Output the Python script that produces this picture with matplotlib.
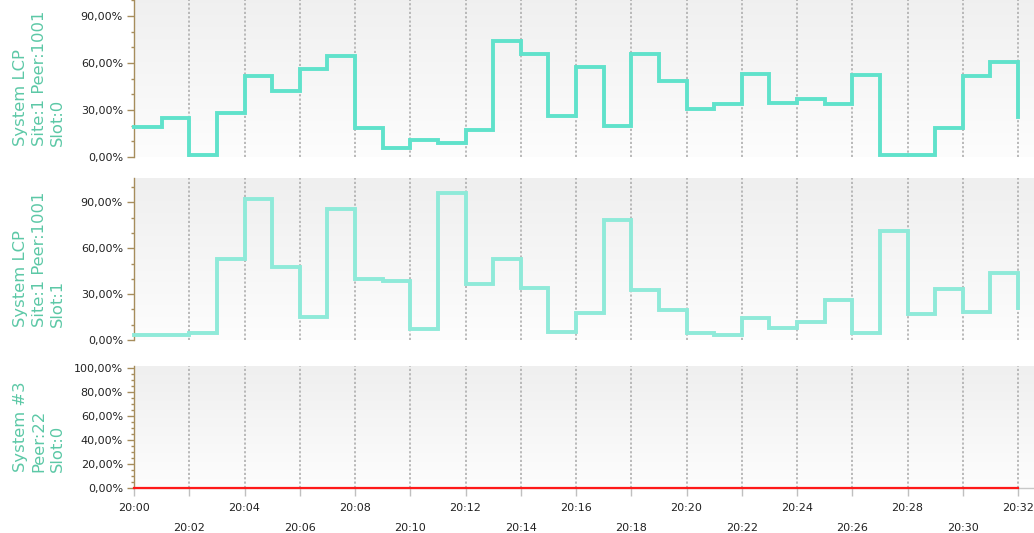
import numpy as np
import matplotlib
matplotlib.use("Agg")
import matplotlib.pyplot as plt
from matplotlib.ticker import FixedLocator, MultipleLocator, FuncFormatter
from matplotlib.colors import LinearSegmentedColormap

# minutes after 20:00 (one value per minute, last entry is the value at 20:32)
minutes = list(range(33))
tick_labels = ["20:%02d" % m for m in range(0, 33, 2)]

slot0 = [19, 25, 1, 28, 52, 42, 56, 64.5, 18.5, 6, 11, 9, 17, 74, 65.5, 26.5,
         57.5, 19.5, 65.5, 48.5, 30.5, 34, 53, 34.5, 37, 34, 52.5, 1, 1.5, 18.5,
         51.7, 60.6, 25.5]
slot1 = [3, 3, 4.5, 53, 92, 48, 15, 86, 40, 38.7, 7, 96.5, 36.8, 53, 34, 5.3,
         17.7, 78.8, 32.8, 19.7, 4.8, 3.5, 14.4, 7.9, 12, 26.3, 4.8, 71.5, 17,
         33.5, 18, 43.8, 21]
sys3 = [0] * 33

labels = ["System LCP\nSite:1 Peer:1001\nSlot:0",
          "System LCP\nSite:1 Peer:1001\nSlot:1",
          "System #3\nPeer:22\nSlot:0"]

W, H = 1034, 533
fig = plt.figure(figsize=(W / 100, H / 100), dpi=100, facecolor="white")

spine_col = "#a68d5c"
grid_col = "#b4b4b4"
label_col = "#5cc8a6"
bg = LinearSegmentedColormap.from_list("bg", ["#fdfdfd", "#efefef"])


def px_axes(top, bottom):
    return fig.add_axes([134 / W, (H - bottom) / H, (W - 134) / W, (bottom - top) / H])


def pct(v, pos):
    return ("%.2f%%" % v).replace(".", ",")


panels = [
    (px_axes(-9, 157), slot0, "#60e2cb", 2.8, (0, 106), 30, 10),
    (px_axes(178, 340), slot1, "#8fead9", 2.8, (0, 106), 30, 10),
    (px_axes(366, 488), sys3, "#ff1a1a", 1.6, (0, 101.6), 20, 5),
]

xmax = 32 + 16 / 27.625
for i, (ax, vals, col, lw, ylim, major, minor) in enumerate(panels):
    ax.set_xlim(0, xmax)
    ax.set_ylim(*ylim)
    grad = np.linspace(0, 1, 256).reshape(-1, 1)
    ax.imshow(grad, extent=[0, xmax, ylim[0], ylim[1]], origin="lower",
              aspect="auto", cmap=bg, zorder=0)
    for m in range(2, 33, 2):
        ax.axvline(m, color=grid_col, lw=1.3, dashes=(1.2, 1.2), zorder=1)
    ax.step(minutes, vals, where="post", color=col, lw=lw, zorder=4,
            solid_joinstyle="miter", clip_on=False)

    for s in ["top", "right"]:
        ax.spines[s].set_visible(False)
    ax.spines["left"].set_color(spine_col)
    ax.spines["left"].set_linewidth(1.0)
    ax.yaxis.set_major_locator(FixedLocator(np.arange(0, ylim[1], major)))
    ax.yaxis.set_minor_locator(MultipleLocator(minor))
    ax.yaxis.set_major_formatter(FuncFormatter(pct))
    ax.tick_params(axis="y", which="major", length=5, width=1, color=spine_col,
                   labelsize=8, labelcolor="#222222", pad=3)
    ax.tick_params(axis="y", which="minor", length=2.5, width=1, color=spine_col)

    if i < 2:
        ax.spines["bottom"].set_visible(False)
        ax.set_xticks([])
    else:
        ax.spines["bottom"].set_color("#c8c8c8")
        ax.spines["bottom"].set_linewidth(1.0)
        ax.set_xticks(minutes[0::4])
        ax.set_xticklabels(tick_labels[0::2])
        ax.set_xticks(minutes[2::4], minor=True)
        ax.set_xticklabels(tick_labels[1::2], minor=True)
        ax.tick_params(axis="x", which="both", length=6, width=1, color="#c0c0c0",
                       labelsize=8, labelcolor="#222222")
        ax.tick_params(axis="x", which="major", pad=5)
        ax.tick_params(axis="x", which="minor", pad=19)

# y labels centred on each panel's visible area
centres = [78, 259, 427]
for txt, yc in zip(labels, centres):
    fig.text(39 / W, 1 - yc / H, txt, rotation=90, ha="center", va="center",
             multialignment="left", fontsize=11.8, color=label_col, linespacing=1.3)

fig.savefig("out.png", dpi=100, facecolor=fig.get_facecolor())
